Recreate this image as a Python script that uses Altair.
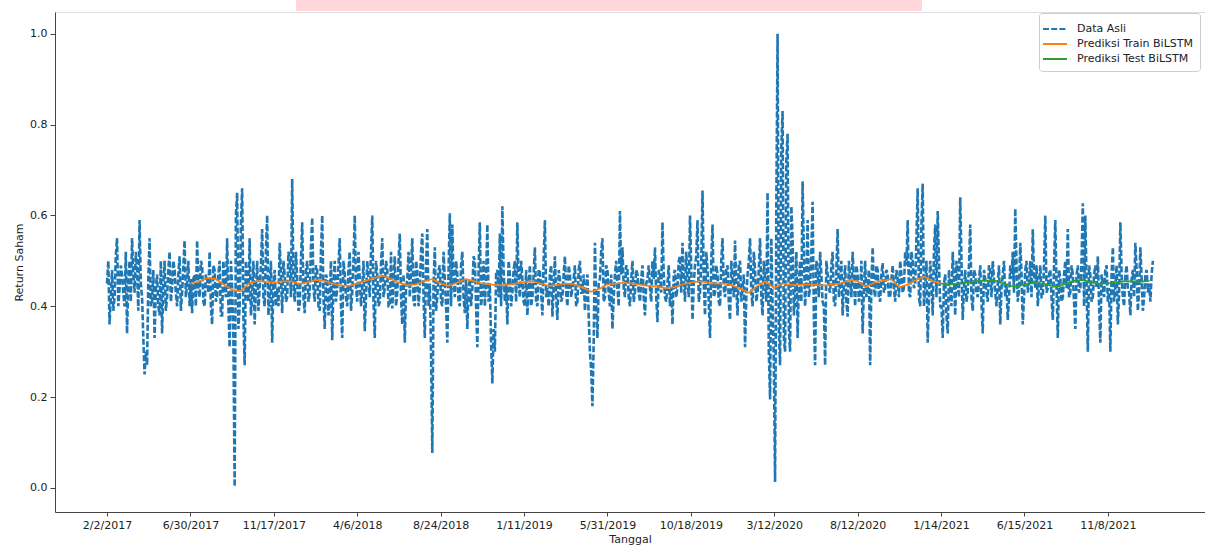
import altair as alt
import pandas as pd

# ---- data ----
tick_labels = ["2/2/2017", "6/30/2017", "11/17/2017", "4/6/2018", "8/24/2018", "1/11/2019",
               "5/31/2019", "10/18/2019", "3/12/2020", "8/12/2020", "1/14/2021", "6/15/2021", "11/8/2021"]
tick_index = [0, 100, 200, 300, 400, 500, 600, 700, 800, 900, 1000, 1100, 1200]

# actual returns sampled every 3 trading days (index 0, 3, 6, ... 1254)
actual_step = 3
actual_a = [
    0.45, 0.36, 0.48, 0.42, 0.55, 0.44, 0.47, 0.40, 0.34, 0.50, 0.55, 0.43, 0.48, 0.59, 0.42, 0.25, 0.27,
    0.55, 0.41, 0.33, 0.47, 0.38, 0.34, 0.50, 0.42, 0.52, 0.44, 0.48, 0.40, 0.51, 0.43, 0.545, 0.45, 0.40,
    0.385, 0.47, 0.545, 0.42, 0.49, 0.40, 0.46, 0.52, 0.36, 0.48, 0.42, 0.50, 0.38, 0.45, 0.55, 0.31, 0.44,
    0.003, 0.65, 0.40, 0.66, 0.27, 0.45, 0.55, 0.42, 0.36, 0.50, 0.44, 0.57, 0.40, 0.60, 0.43, 0.32, 0.48,
    0.44, 0.54, 0.385, 0.47, 0.42, 0.50, 0.68, 0.41, 0.46, 0.40, 0.585, 0.385, 0.50, 0.43, 0.595, 0.41, 0.48,
    0.39, 0.60, 0.35, 0.46, 0.42, 0.325, 0.50, 0.44, 0.55, 0.33, 0.47, 0.40, 0.52, 0.43, 0.60, 0.41, 0.46,
    0.44, 0.345, 0.50, 0.42, 0.60, 0.33, 0.47, 0.41, 0.55, 0.44, 0.48, 0.40, 0.395, 0.51, 0.43, 0.56, 0.36,
    0.32, 0.46, 0.42, 0.55, 0.40, 0.48, 0.44, 0.56, 0.33, 0.57, 0.45, 0.077, 0.53, 0.42, 0.49, 0.40, 0.46,
    0.32, 0.605, 0.58, 0.42, 0.47, 0.40, 0.52, 0.385, 0.35, 0.46, 0.44, 0.50, 0.31, 0.585, 0.43, 0.40, 0.58,
    0.45, 0.23, 0.30, 0.48, 0.56, 0.62, 0.41, 0.36, 0.47, 0.43, 0.50, 0.585, 0.42, 0.46, 0.40, 0.38, 0.49,
    0.42, 0.53, 0.40, 0.48, 0.38, 0.59, 0.44, 0.47, 0.377, 0.51, 0.37, 0.46, 0.42, 0.51, 0.40, 0.47, 0.44,
    0.49, 0.41, 0.50, 0.43, 0.39, 0.47, 0.30, 0.18, 0.54, 0.33, 0.46, 0.55, 0.42, 0.48, 0.40, 0.35, 0.47,
    0.44, 0.61, 0.53, 0.42, 0.48, 0.40, 0.50, 0.43, 0.47, 0.41, 0.49, 0.38, 0.46, 0.44, 0.50, 0.53, 0.365,
    0.47, 0.585, 0.42, 0.45, 0.40, 0.36, 0.48, 0.44, 0.51, 0.54, 0.41, 0.46, 0.60, 0.37, 0.49, 0.59, 0.43,
    0.655, 0.38, 0.48, 0.33, 0.58, 0.43, 0.47, 0.40, 0.55, 0.42, 0.49, 0.37, 0.46, 0.545, 0.38, 0.50, 0.44,
    0.31, 0.47, 0.55, 0.40, 0.48, 0.43, 0.55, 0.38, 0.46, 0.65, 0.195, 0.40, 0.013, 1.0, 0.27, 0.83, 0.30,
    0.78, 0.30, 0.55, 0.42, 0.33, 0.50, 0.675, 0.40, 0.59, 0.44, 0.63, 0.27, 0.48, 0.52, 0.41, 0.27, 0.47,
    0.43, 0.52, 0.40, 0.57, 0.45, 0.38, 0.49, 0.377, 0.46, 0.52, 0.40, 0.47, 0.43, 0.34, 0.50, 0.44, 0.27,
    0.53, 0.42, 0.48, 0.41, 0.495, 0.44, 0.47, 0.42, 0.49, 0.41, 0.46, 0.50, 0.43, 0.52, 0.59, 0.42, 0.50,
    0.45, 0.66, 0.40, 0.67, 0.44, 0.32, 0.50, 0.38, 0.58, 0.61, 0.40, 0.33, 0.47, 0.34, 0.44, 0.52, 0.38,
    0.45, 0.64, 0.37, 0.48, 0.43, 0.58, 0.39, 0.47, 0.42, 0.49, 0.34, 0.46, 0.41, 0.48, 0.50, 0.43, 0.45,
    0.36, 0.47, 0.42, 0.37, 0.49, 0.52, 0.615, 0.41, 0.54, 0.36, 0.48, 0.43, 0.50, 0.57, 0.44, 0.40, 0.49,
    0.42, 0.60, 0.44, 0.48, 0.37, 0.59, 0.33, 0.46, 0.42, 0.50, 0.57, 0.43, 0.47, 0.35, 0.49, 0.44, 0.627,
    0.60, 0.30, 0.47, 0.42, 0.49, 0.51, 0.32, 0.45, 0.48, 0.41, 0.30, 0.53, 0.44, 0.36, 0.585, 0.42, 0.47,
    0.44, 0.38, 0.48, 0.54, 0.39, 0.53, 0.39, 0.47, 0.43, 0.41, 0.50,
]
# in-between readings (index 1.5, 4.5, 7.5, ...)
actual_b = [
    0.50, 0.42, 0.39, 0.51, 0.40, 0.49, 0.43, 0.52, 0.46, 0.41, 0.47, 0.52, 0.39, 0.45, 0.33, 0.30, 0.46,
    0.40, 0.48, 0.44, 0.40, 0.50, 0.45, 0.39, 0.48, 0.41, 0.50, 0.43, 0.47, 0.39, 0.49, 0.42, 0.50, 0.46,
    0.46, 0.40, 0.44, 0.50, 0.41, 0.47, 0.43, 0.40, 0.49, 0.41, 0.47, 0.38, 0.50, 0.42, 0.40, 0.50, 0.33,
    0.60, 0.35, 0.58, 0.38, 0.50, 0.41, 0.38, 0.50, 0.44, 0.39, 0.49, 0.42, 0.52, 0.38, 0.50, 0.45, 0.40,
    0.40, 0.47, 0.50, 0.41, 0.52, 0.42, 0.45, 0.52, 0.39, 0.50, 0.42, 0.48, 0.41, 0.53, 0.44, 0.49, 0.40,
    0.52, 0.42, 0.47, 0.38, 0.50, 0.45, 0.41, 0.49, 0.40, 0.50, 0.42, 0.48, 0.39, 0.50, 0.44, 0.52, 0.40,
    0.50, 0.42, 0.46, 0.52, 0.41, 0.50, 0.40, 0.49, 0.42, 0.50, 0.40, 0.52, 0.46, 0.40, 0.50, 0.42, 0.47,
    0.44, 0.52, 0.48, 0.41, 0.50, 0.40, 0.52, 0.42, 0.49, 0.40, 0.30, 0.45, 0.39, 0.48, 0.41, 0.52, 0.40,
    0.48, 0.40, 0.45, 0.50, 0.41, 0.49, 0.42, 0.46, 0.44, 0.40, 0.51, 0.40, 0.48, 0.40, 0.50, 0.46, 0.41,
    0.32, 0.35, 0.47, 0.42, 0.40, 0.48, 0.45, 0.50, 0.40, 0.48, 0.41, 0.45, 0.50, 0.41, 0.48, 0.44, 0.40,
    0.47, 0.41, 0.48, 0.43, 0.50, 0.42, 0.40, 0.49, 0.44, 0.42, 0.48, 0.41, 0.47, 0.43, 0.49, 0.42, 0.46,
    0.40, 0.48, 0.43, 0.47, 0.44, 0.38, 0.26, 0.32, 0.40, 0.45, 0.52, 0.41, 0.49, 0.43, 0.47, 0.42, 0.50,
    0.40, 0.47, 0.44, 0.49, 0.42, 0.46, 0.41, 0.48, 0.43, 0.46, 0.42, 0.45, 0.49, 0.41, 0.46, 0.42, 0.48,
    0.43, 0.47, 0.41, 0.49, 0.44, 0.47, 0.42, 0.50, 0.43, 0.46, 0.52, 0.42, 0.48, 0.45, 0.51, 0.41, 0.50,
    0.45, 0.52, 0.41, 0.50, 0.42, 0.49, 0.41, 0.50, 0.44, 0.48, 0.41, 0.50, 0.42, 0.44, 0.49, 0.41, 0.47,
    0.42, 0.50, 0.43, 0.52, 0.41, 0.48, 0.42, 0.50, 0.41, 0.30, 0.55, 0.28, 0.62, 0.35, 0.75, 0.33, 0.72,
    0.35, 0.62, 0.38, 0.52, 0.45, 0.41, 0.52, 0.46, 0.42, 0.52, 0.38, 0.50, 0.42, 0.47, 0.40, 0.50, 0.44,
    0.49, 0.41, 0.48, 0.42, 0.50, 0.45, 0.41, 0.50, 0.42, 0.46, 0.49, 0.41, 0.50, 0.44, 0.42, 0.48, 0.45,
    0.44, 0.49, 0.42, 0.47, 0.43, 0.48, 0.42, 0.46, 0.44, 0.48, 0.42, 0.47, 0.44, 0.49, 0.43, 0.52, 0.44,
    0.55, 0.42, 0.58, 0.40, 0.50, 0.42, 0.45, 0.52, 0.42, 0.50, 0.40, 0.45, 0.38, 0.48, 0.40, 0.46, 0.50,
    0.42, 0.50, 0.44, 0.41, 0.49, 0.42, 0.48, 0.43, 0.46, 0.41, 0.48, 0.43, 0.49, 0.42, 0.46, 0.40, 0.49,
    0.44, 0.50, 0.45, 0.42, 0.46, 0.43, 0.49, 0.44, 0.47, 0.42, 0.50, 0.45, 0.42, 0.47, 0.49, 0.45, 0.42,
    0.49, 0.43, 0.47, 0.42, 0.49, 0.44, 0.48, 0.41, 0.47, 0.44, 0.42, 0.49, 0.41, 0.47, 0.43, 0.50, 0.40,
    0.45, 0.49, 0.41, 0.47, 0.44, 0.40, 0.47, 0.42, 0.49, 0.44, 0.47, 0.41, 0.49, 0.43, 0.47, 0.40, 0.49,
    0.43, 0.46, 0.42, 0.48, 0.44, 0.46, 0.42, 0.48, 0.45, 0.47,
]

# train prediction, every 10 trading days from index 100
train_start, train_step = 100, 10
train_pred = [
    0.450, 0.455, 0.462, 0.460, 0.448, 0.436, 0.433, 0.450, 0.456, 0.454, 0.452, 0.455, 0.455, 0.450,
    0.452, 0.458, 0.456, 0.450, 0.446, 0.445, 0.450, 0.456, 0.462, 0.468, 0.460, 0.452, 0.446, 0.448,
    0.455, 0.460, 0.450, 0.445, 0.452, 0.460, 0.455, 0.450, 0.448, 0.446, 0.447, 0.450, 0.453, 0.455,
    0.450, 0.445, 0.447, 0.450, 0.448, 0.442, 0.432, 0.438, 0.448, 0.450, 0.452, 0.450, 0.447, 0.445,
    0.443, 0.440, 0.442, 0.448, 0.452, 0.455, 0.452, 0.450, 0.450, 0.446, 0.438, 0.430, 0.445, 0.455,
    0.440, 0.450, 0.447, 0.447, 0.448, 0.447, 0.446, 0.448, 0.450, 0.458, 0.455, 0.442, 0.452, 0.456,
    0.460, 0.442, 0.448, 0.458, 0.465, 0.455, 0.450,
]

# test prediction, every 10 trading days from index 1000
test_start, test_step = 1000, 10
test_pred = [
    0.450, 0.448, 0.450, 0.452, 0.455, 0.456, 0.457, 0.455, 0.446, 0.443, 0.448, 0.452, 0.450,
    0.446, 0.443, 0.450, 0.456, 0.458, 0.452, 0.450, 0.450, 0.453, 0.455, 0.455, 0.454, 0.456,
]

series_names = ["Data Asli", "Prediksi Train BiLSTM", "Prediksi Test BiLSTM"]
series_colors = ["#1f77b4", "#ff7f0e", "#2ca02c"]
series_dash = [[6, 2.2], [1, 0], [1, 0]]

# ---- tables ----
rows = []
for j, v in enumerate(actual_a):
    rows.append((j * actual_step, v))
    if j < len(actual_b):
        rows.append((j * actual_step + actual_step / 2, actual_b[j]))
df_actual = pd.DataFrame(rows, columns=["idx", "val"])
df_actual["series"] = series_names[0]
df_train = pd.DataFrame({"idx": [train_start + i * train_step for i in range(len(train_pred))],
                         "val": train_pred, "series": series_names[1]})
df_test = pd.DataFrame({"idx": [test_start + i * test_step for i in range(len(test_pred))],
                        "val": test_pred, "series": series_names[2]})

label_expr = "[" + ",".join("'" + s + "'" for s in tick_labels) + "][round(datum.value / 100)]"

FONT = "DejaVu Sans"

x_enc = alt.X("idx:Q",
              scale=alt.Scale(domain=[-62.4, 1316.5], nice=False, zero=False),
              axis=alt.Axis(values=tick_index, labelExpr=label_expr, title="Tanggal",
                            grid=False, tickSize=4, labelPadding=3, titlePadding=3,
                            labelFontSize=11, titleFontSize=11, labelFont=FONT, titleFont=FONT,
                            titleFontWeight="normal", labelColor="#222", titleColor="#222",
                            domainColor="#444", tickColor="#444", labelFlush=False))
y_enc = alt.Y("val:Q",
              scale=alt.Scale(domain=[-0.053, 1.048], nice=False, zero=False),
              axis=alt.Axis(values=[0, 0.2, 0.4, 0.6, 0.8, 1.0], format=".1f", title="Return Saham",
                            grid=False, tickSize=5, labelPadding=3, titlePadding=5,
                            labelFontSize=11, titleFontSize=11, labelFont=FONT, titleFont=FONT,
                            titleFontWeight="normal", labelColor="#222", titleColor="#222",
                            domainColor="#444", tickColor="#444"))

legend = alt.Legend(orient="none", legendX=984, legendY=1, title=None,
                    symbolType="M-1.5,0H1.5", symbolSize=256, symbolStrokeWidth=2,
                    labelFontSize=11, labelFont=FONT, labelColor="#222", labelOffset=13,
                    rowPadding=1, padding=7, fillColor="white", strokeColor="#cccccc",
                    cornerRadius=3)

color_enc = alt.Color("series:N", scale=alt.Scale(domain=series_names, range=series_colors),
                      legend=legend)
dash_enc = alt.StrokeDash("series:N", scale=alt.Scale(domain=series_names, range=series_dash),
                          legend=legend)

line_actual = alt.Chart(df_actual).mark_line(strokeWidth=2.6).encode(
    x=x_enc, y=y_enc, color=color_enc, strokeDash=dash_enc)
line_train = alt.Chart(df_train).mark_line(strokeWidth=1.7).encode(
    x=x_enc, y=y_enc, color=color_enc, strokeDash=dash_enc)
line_test = alt.Chart(df_test).mark_line(strokeWidth=1.7).encode(
    x=x_enc, y=y_enc, color=color_enc, strokeDash=dash_enc)

# pink caption strip cut off at the top of the scanned figure
banner = alt.Chart(pd.DataFrame({"k": [0]})).mark_rect(color="#ffd6da").encode(
    x=alt.value(241), x2=alt.value(867), y=alt.value(-12), y2=alt.value(-1))

chart = alt.layer(banner, line_actual, line_train, line_test).properties(
    width=1150, height=500,
    autosize=alt.AutoSizeParams(type="none"),
    padding={"left": 55, "top": 12, "right": 0, "bottom": 35},
).configure_view(stroke="#444", strokeWidth=1).configure(background="white")

chart.save("out.html", embed_options={"renderer": "svg", "actions": False})
